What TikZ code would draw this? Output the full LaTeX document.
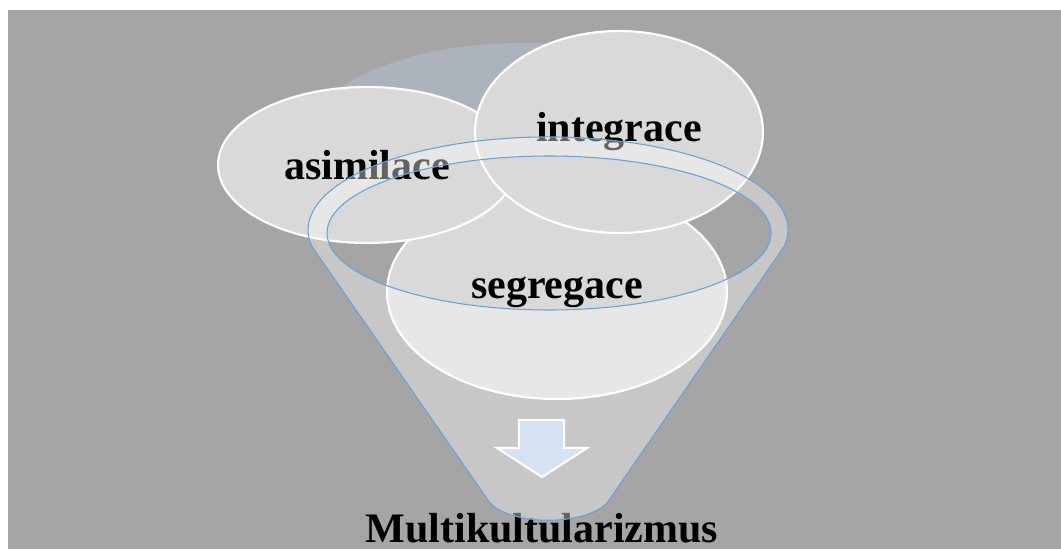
\documentclass[tikz,border=0pt]{standalone}
\usepackage{xcolor}
\usepackage{fontspec}
\setmainfont{Liberation Serif}
\usetikzlibrary{shapes.geometric}
\definecolor{MKBack}{HTML}{A5A5A5}
\definecolor{MKShadow}{HTML}{ADB3BD}
\definecolor{MKDisc}{HTML}{D9D9D9}
\definecolor{MKBlue}{HTML}{6A9FD8}
\definecolor{MKArrow}{HTML}{D5E2F3}
\tikzset{
  disc/.style={ellipse,inner sep=0pt,fill=MKDisc,draw=white,line width=1.2pt,
    font=\fontsize{23.9}{28}\selectfont\bfseries},
  funnelline/.style={draw=MKBlue,line width=.6pt}
}
\begin{document}
\begin{tikzpicture}[x=0.02cm,y=0.02cm]
\path[use as bounding box] (0,0) rectangle (1061,549);
\fill[white] (0,0) rectangle (1061,549);
\fill[MKBack] (8,0) rectangle (1061,539);
% shadow behind the discs
\fill[MKShadow] (522,409) ellipse [x radius=215,y radius=97];
% the three discs
\node[disc,minimum width=6.8cm,minimum height=4.28cm] (segreg) at (557,257) {segregace};
\node[disc,minimum width=5.96cm,minimum height=3.12cm] (asim) at (367,384) {asimilace};
\node[disc,minimum width=5.76cm,minimum height=4.04cm] (integ) at (619,417) {integrace};
\node[anchor=base,font=\fontsize{23.9}{28}\selectfont\bfseries] (result) at (542,7) {Multikultularizmus};
% funnel, see-through
\fill[white,fill opacity=.39,even odd rule]
  (784.4,302.9) arc[start angle=-10,end angle=190,x radius=240,y radius=93]
  -- (490,46) .. controls (512,23) and (585,23) .. (607,46) -- cycle
  (549,316) ellipse [x radius=222,y radius=77];
\path[funnelline]
  (784.4,302.9) arc[start angle=-10,end angle=190,x radius=240,y radius=93]
  -- (490,46) .. controls (512,23) and (585,23) .. (607,46) -- cycle;
\path[funnelline] (549,316) ellipse [x radius=222,y radius=77];
% arrow
\filldraw[fill=MKArrow,draw=white,line width=1.2pt,line join=miter]
  (519,129) -- (564,129) -- (564,101) -- (587,101) -- (542,72)
  -- (497,101) -- (519,101) -- cycle;
\end{tikzpicture}
\end{document}
